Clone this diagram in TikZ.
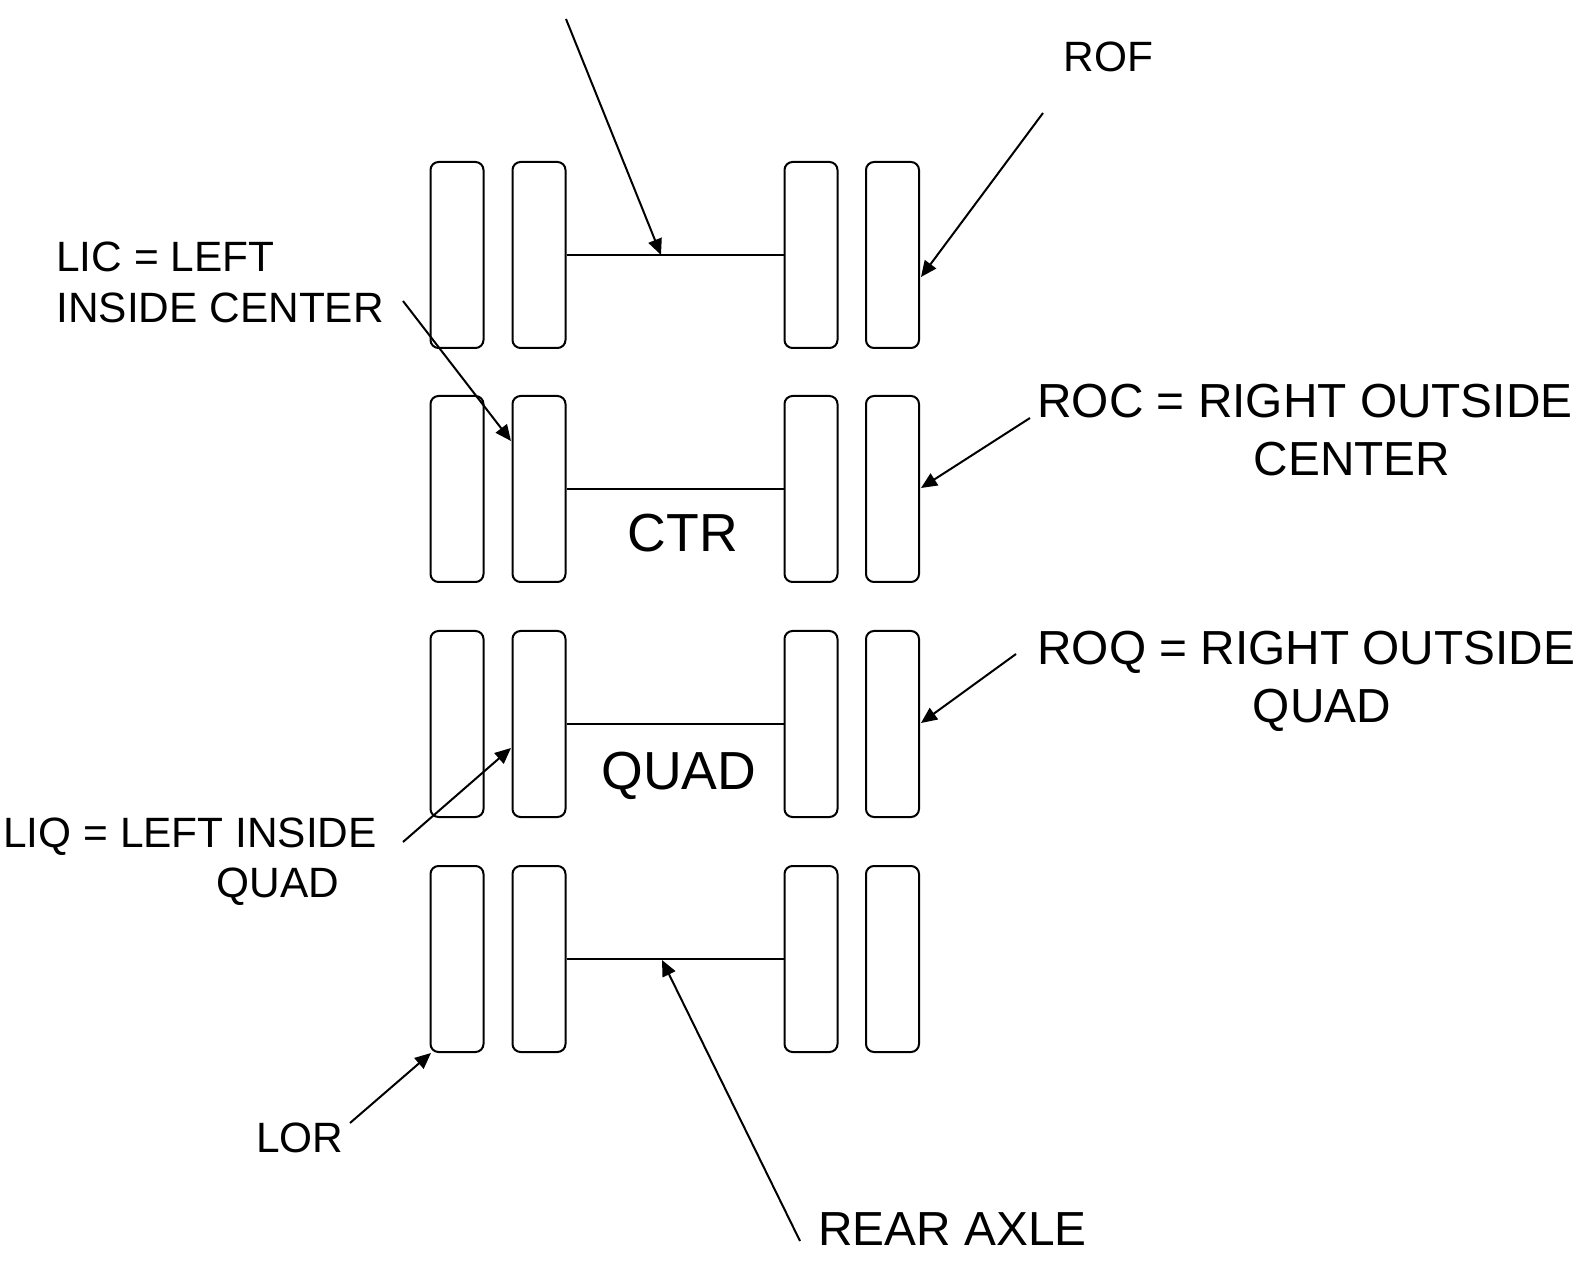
\documentclass[tikz,border=0pt]{standalone}
\usepackage{fontspec}
\setmainfont{Liberation Sans}
\usetikzlibrary{arrows.meta}
\begin{document}
\begin{tikzpicture}[x=0.5pt,y=-0.5pt,
  tire/.style={draw, line width=1pt, rounded corners=4pt, minimum width=26.5pt, minimum height=93pt, inner sep=0pt},
  axle/.style={line width=1pt},
  ptr/.style={line width=1pt, -{Triangle[length=8pt,width=7pt]}},
  lblS/.style={font=\fontsize{21.2pt}{25pt}\selectfont, inner sep=0pt},
  lblM/.style={font=\fontsize{23.9pt}{28pt}\selectfont, inner sep=0pt},
  lblL/.style={font=\fontsize{26.8pt}{31pt}\selectfont, inner sep=0pt}]
\useasboundingbox (0,0) rectangle (1581,1267);
% tires and axles
\foreach \r/\y in {1/255,2/489,3/724,4/959}{
  \foreach \c/\x in {1/457,2/539,3/811,4/892.5}{
    \node[tire] (t\r\c) at (\x,\y) {};
  }
  \draw[axle] (t\r2.east) -- (t\r3.west);
}
% labels
\node[lblS, anchor=base west] (rof) at (1063,72) {ROF};
\node[lblS, anchor=base west] (lic1) at (56,272) {LIC = LEFT};
\node[lblS, anchor=base west] (lic2) at (56,323) {INSIDE CENTER};
\node[lblM, anchor=base west] (roc1) at (1037,418) {ROC = RIGHT OUTSIDE};
\node[lblM, anchor=base] (roc2) at (1352,476) {CENTER};
\node[lblL, anchor=base] (ctr) at (683,552) {CTR};
\node[lblM, anchor=base west] (roq1) at (1037,665) {ROQ = RIGHT OUTSIDE};
\node[lblM, anchor=base] (roq2) at (1322,722) {QUAD};
\node[lblL, anchor=base] (quad) at (679,789) {QUAD};
\node[lblS, anchor=base west] (liq1) at (3,847) {LIQ = LEFT INSIDE};
\node[lblS, anchor=base] (liq2) at (278,897) {QUAD};
\node[lblS, anchor=base west] (lor) at (256,1152) {LOR};
\node[lblM, anchor=base west] (rear) at (818,1245) {REAR AXLE};
% arrow ends
\coordinate (s0) at (566,19);   \coordinate (e0) at (661,255);
\coordinate (s1) at (1043,113); \coordinate (e1) at (921,277);
\coordinate (s2) at (403,301);  \coordinate (e2) at (511,441);
\coordinate (s3) at (1030,418); \coordinate (e3) at (921,488);
\coordinate (s4) at (1016,654); \coordinate (e4) at (921,723);
\coordinate (s5) at (403,842);  \coordinate (e5) at (511,748);
\coordinate (s6) at (350,1123); \coordinate (e6) at (431,1053);
\coordinate (s7) at (800,1241); \coordinate (e7) at (662,960);
\foreach \i in {0,...,7}{ \draw[ptr] (s\i) -- (e\i); }
\end{tikzpicture}
\end{document}
